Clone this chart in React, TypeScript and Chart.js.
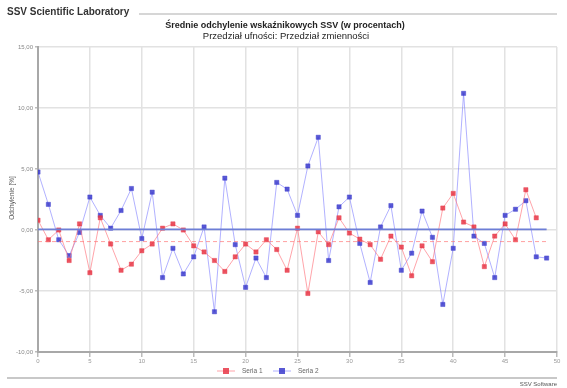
import React, { useEffect, useRef } from "react";
import { Chart, registerables } from "chart.js";

Chart.register(...registerables);

const FONT = "'Liberation Sans', Arial, sans-serif";

// Series values (index 0..49)
const seriesBlue = [
  4.75, 2.1, -0.8, -2.1, -0.2, 2.7, 1.2, 0.15, 1.6, 3.4,
  -0.7, 3.1, -3.9, -1.5, -3.6, -2.2, 0.25, -6.7, 4.25, -1.2,
  -4.7, -2.3, -3.9, 3.9, 3.35, 1.2, 5.25, 7.6, -2.5, 1.9,
  2.7, -1.1, -4.3, 0.25, 2.0, -3.3, -1.9, 1.55, -0.6, -6.1,
  -1.5, 11.2, -0.5, -1.1, -3.9, 1.2, 1.7, 2.4, -2.2, -2.3,
];
const seriesRed = [
  0.8, -0.8, 0.0, -2.5, 0.5, -3.5, 1.0, -1.15, -3.3, -2.8,
  -1.7, -1.15, 0.15, 0.5, 0.0, -1.3, -1.8, -2.5, -3.4, -2.2,
  -1.15, -1.8, -0.8, -1.6, -3.3, 0.15, -5.2, -0.15, -1.2, 1.0,
  -0.25, -0.75, -1.2, -2.4, -0.5, -1.4, -3.75, -1.3, -2.6, 1.8,
  3.0, 0.65, 0.25, -3.0, -0.5, 0.5, -0.8, 3.3, 1.0,
];
const meanBlue = 0.05;
const meanRed = -0.95;
const meanSpan = [0, 49];

const legendLabels = ["Seria 1", "Seria 2"];
const headerText = "SSV Scientific Laboratory";
const titleLines = [
  "Średnie odchylenie wskaźnikowych SSV (w procentach)",
  "Przedział ufności: Przedział zmienności",
];
const yAxisTitle = "Odchylenie [%]";
const footerText = "SSV Software";

const xMin = 0, xMax = 50, xStep = 5;
const yMin = -10, yMax = 15, yStep = 5;

const RED_LINE = "rgba(255,115,125,0.65)";
const RED_PT = "rgba(232,55,70,0.85)";
const BLUE_LINE = "rgba(125,125,255,0.6)";
const BLUE_PT = "rgba(60,60,205,0.85)";

const decor = {
  id: "decor",
  afterDraw(chart: any) {
    const ctx = chart.ctx;
    ctx.save();
    // header
    ctx.fillStyle = "#333";
    ctx.font = `bold 10px ${FONT}`;
    ctx.textBaseline = "middle";
    ctx.textAlign = "left";
    ctx.fillText(headerText, 7, 12);
    ctx.strokeStyle = "#c8c8c8";
    ctx.lineWidth = 1.5;
    ctx.beginPath();
    ctx.moveTo(139, 14);
    ctx.lineTo(557, 14);
    ctx.stroke();
    // titles
    ctx.textAlign = "center";
    ctx.fillStyle = "#222";
    ctx.font = `bold 9px ${FONT}`;
    ctx.fillText(titleLines[0], 285, 26);
    ctx.font = `9.5px ${FONT}`;
    ctx.fillText(titleLines[1], 286, 36);
    // y title
    ctx.save();
    ctx.translate(12, 198);
    ctx.rotate(-Math.PI / 2);
    ctx.font = `6.5px ${FONT}`;
    ctx.fillStyle = "#555";
    ctx.fillText(yAxisTitle, 0, 0);
    ctx.restore();
    // legend
    const ly = 371;
    const items = [
      { x: 217, line: RED_LINE, pt: RED_PT, label: legendLabels[0] },
      { x: 273, line: BLUE_LINE, pt: BLUE_PT, label: legendLabels[1] },
    ];
    ctx.font = `6.5px ${FONT}`;
    ctx.textAlign = "left";
    for (const it of items) {
      ctx.strokeStyle = it.line;
      ctx.lineWidth = 1;
      ctx.beginPath();
      ctx.moveTo(it.x, ly);
      ctx.lineTo(it.x + 18, ly);
      ctx.stroke();
      ctx.fillStyle = it.pt;
      ctx.fillRect(it.x + 6, ly - 3, 6, 6);
      ctx.fillStyle = "#666";
      ctx.fillText(it.label, it.x + 25, ly);
    }
    // bottom rule
    ctx.strokeStyle = "#c8c8c8";
    ctx.lineWidth = 2;
    ctx.beginPath();
    ctx.moveTo(7, 378);
    ctx.lineTo(557, 378);
    ctx.stroke();
    ctx.textAlign = "right";
    ctx.fillStyle = "#555";
    ctx.font = `6px ${FONT}`;
    ctx.fillText(footerText, 557, 384);
    ctx.restore();
  },
};

export default function App() {
  const ref = useRef<HTMLCanvasElement | null>(null);
  useEffect(() => {
    if (!ref.current) return;
    const redPts = seriesRed.map((v, i) => ({ x: i, y: v }));
    const bluePts = seriesBlue.map((v, i) => ({ x: i, y: v }));
    const chart = new Chart(ref.current, {
      type: "line",
      data: {
        datasets: [
          {
            label: "meanBlue",
            data: meanSpan.map((x) => ({ x, y: meanBlue })),
            borderColor: "#6d7ed6",
            borderWidth: 1.6,
            pointRadius: 0,
          },
          {
            label: "meanRed",
            data: meanSpan.map((x) => ({ x, y: meanRed })),
            borderColor: "rgba(255,110,110,0.65)",
            borderWidth: 1,
            borderDash: [4, 3],
            pointRadius: 0,
          },
          {
            label: legendLabels[0],
            data: redPts,
            borderColor: RED_LINE,
            borderWidth: 1,
            pointStyle: "rect",
            pointRadius: 3,
            pointBackgroundColor: RED_PT,
            pointBorderColor: RED_PT,
            pointBorderWidth: 0.5,
          },
          {
            label: legendLabels[1],
            data: bluePts,
            borderColor: BLUE_LINE,
            borderWidth: 1,
            pointStyle: "rect",
            pointRadius: 3,
            pointBackgroundColor: BLUE_PT,
            pointBorderColor: BLUE_PT,
            pointBorderWidth: 0.5,
          },
        ],
      },
      options: {
        animation: false,
        responsive: true,
        maintainAspectRatio: false,
        layout: { padding: { top: 47, right: 10, bottom: 22, left: 0 } },
        plugins: { legend: { display: false }, tooltip: { enabled: false }, title: { display: false } },
        scales: {
          x: {
            type: "linear",
            min: xMin,
            max: xMax,
            ticks: { stepSize: xStep, font: { size: 6, family: FONT }, color: "#999", padding: 1, maxRotation: 0 },
            grid: { color: "#e2e2e2", lineWidth: 1.5, tickLength: 5, tickColor: "#bbb" },
            border: { color: "#a8a8a8", width: 2 },
            afterFit: (s: any) => { s.height = 14; },
          },
          y: {
            min: yMin,
            max: yMax,
            ticks: {
              stepSize: yStep,
              font: { size: 6, family: FONT },
              color: "#888",
              padding: 2,
              callback: (v: any) => Number(v).toFixed(2).replace(".", ","),
            },
            grid: { color: "#e2e2e2", lineWidth: 1.5, tickLength: 3, tickColor: "#bbb" },
            border: { color: "#a8a8a8", width: 2 },
            afterFit: (s: any) => { s.width = 38; },
          },
        },
      },
      plugins: [decor],
    });
    return () => chart.destroy();
  }, []);
  return (
    <div style={{ position: "fixed", left: 0, top: 0, width: 567, height: 388, background: "#fff" }}>
      <canvas ref={ref} />
    </div>
  );
}
